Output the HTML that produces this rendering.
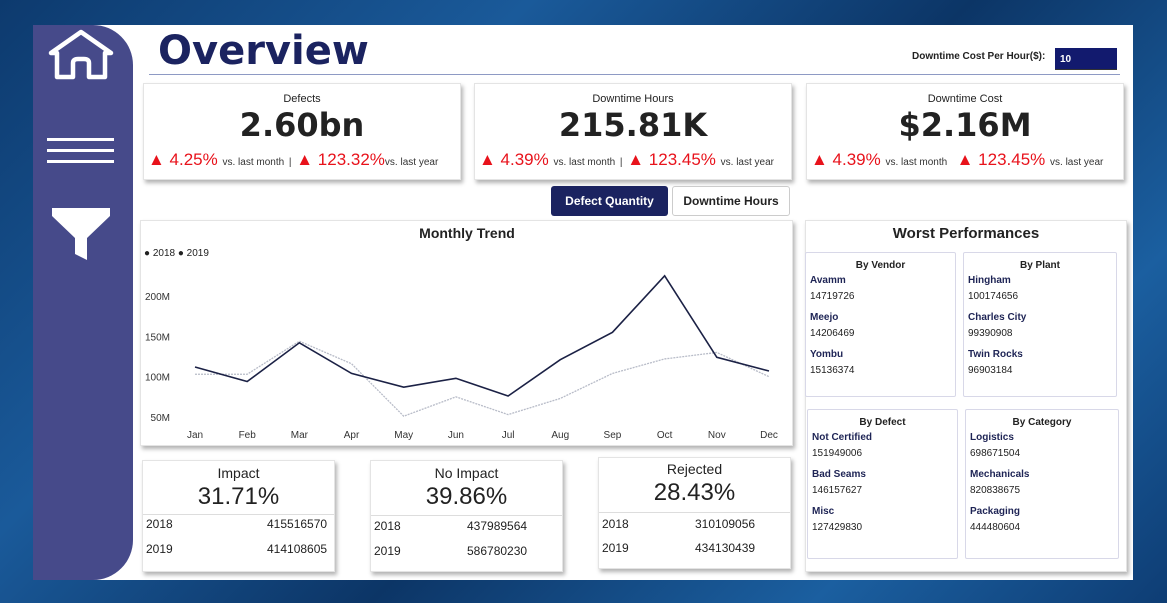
<!DOCTYPE html>
<html><head><meta charset="utf-8"><style>
*{box-sizing:border-box;margin:0;padding:0}
body{width:1167px;height:603px;overflow:hidden;font-family:"Liberation Sans","DejaVu Sans",sans-serif;background:linear-gradient(135deg,#0d3a6e,#1a5a9a 30%,#0c3566 55%,#1b5fa0 80%,#0e3d74);position:relative}
.abs{position:absolute}
.panel{left:33px;top:25px;width:1100px;height:555px;background:#fff}
.side{left:33px;top:25px;width:100px;height:555px;background:#464a8a;border-radius:0 40px 40px 0}
.card{background:#fff;box-shadow:2px 3px 4px rgba(0,0,0,.3);border:1px solid #e4e4e4}
.kt{font-size:11px;color:#222;text-align:center;width:100%}
.kv{font-size:32px;font-weight:bold;color:#222;text-align:center;width:100%;font-family:"DejaVu Sans",sans-serif;line-height:40px}
.kd{font-size:17px;color:#e8121b;white-space:nowrap}
.kd small{font-size:10px;color:#333}
.wp{border:1px solid #d8d8e8;border-radius:2px;background:#fff}
.wp h4{font-size:10px;text-align:center;color:#222;margin-top:7px}
.wp b{display:block;font-size:10px;color:#1e2455;margin:4px 0 0 4px}
.wp span{display:block;font-size:10px;color:#222;margin:5px 0 10px 4px}
.bc .t{font-size:14px;text-align:center;color:#222}
.bc .v{font-size:24px;text-align:center;color:#222}
.bc .r{font-size:12px;color:#222;position:absolute}
</style></head><body>
<div class="abs panel"></div>
<div class="abs side"></div>
<svg class="abs" style="left:46px;top:29px" width="70" height="52"><path d="M5 24 L35 3 L65 24 L59 24 L59 48 L43 48 L43 34 Q43 30 38 30 L32 30 Q27 30 27 34 L27 48 L11 48 L11 24 Z" fill="none" stroke="#fff" stroke-width="4.5" stroke-linejoin="round"/></svg>
<svg class="abs" style="left:46px;top:136px" width="70" height="30"><rect x="1" y="2" width="67" height="3" fill="#fff"/><rect x="1" y="13" width="67" height="3" fill="#fff"/><rect x="1" y="24" width="67" height="3" fill="#fff"/></svg>
<svg class="abs" style="left:50px;top:206px" width="62" height="56"><path d="M2 2 H60 V10 L37 32 V54 L25 48 V32 L2 10 Z" fill="#fff"/></svg>
<div class="abs" style="left:158px;top:28px;font-size:40px;font-weight:bold;color:#1b2360;font-family:'DejaVu Sans',sans-serif">Overview</div>
<div class="abs" style="left:149px;top:74px;width:971px;height:1px;background:#8e9ac4"></div>
<div class="abs" style="left:912px;top:51px;font-size:10px;font-weight:bold;color:#222">Downtime Cost Per Hour($):</div>
<div class="abs" style="left:1055px;top:48px;width:62px;height:22px;background:#121a6e;border-bottom:1px solid #333;color:#fff;font-size:10px;font-weight:bold;padding:6px 5px">10</div>

<div class="abs card" style="left:143px;top:83px;width:318px;height:97px">
<div class="kt" style="margin-top:9px">Defects</div><div class="kv">2.60bn</div>
<div class="kd" style="margin:5px 0 0 4px">▲ 4.25% <small>vs. last month</small> <small>|</small> ▲ 123.32%<small>vs. last year</small></div></div>
<div class="abs card" style="left:474px;top:83px;width:318px;height:97px">
<div class="kt" style="margin-top:9px">Downtime Hours</div><div class="kv">215.81K</div>
<div class="kd" style="margin:5px 0 0 4px">▲ 4.39% <small>vs. last month</small> <small>|</small> ▲ 123.45% <small>vs. last year</small></div></div>
<div class="abs card" style="left:806px;top:83px;width:318px;height:97px">
<div class="kt" style="margin-top:9px">Downtime Cost</div><div class="kv">$2.16M</div>
<div class="kd" style="margin:5px 0 0 4px">▲ 4.39% <small>vs. last month</small>&nbsp; ▲ 123.45% <small>vs. last year</small></div></div>

<div class="abs" style="left:551px;top:186px;width:117px;height:30px;background:#1b2360;color:#fff;font-size:12px;font-weight:bold;text-align:center;line-height:30px;border-radius:3px">Defect Quantity</div>
<div class="abs" style="left:672px;top:186px;width:118px;height:30px;background:#fff;border:1px solid #ccc;color:#222;font-size:12px;font-weight:bold;text-align:center;line-height:28px;border-radius:3px">Downtime Hours</div>

<div class="abs card" style="left:140px;top:220px;width:653px;height:226px"></div>
<svg class="abs" style="left:0;top:0" width="1167" height="603" id="chart"></svg>

<div class="abs card" style="left:805px;top:220px;width:322px;height:352px">
<div style="font-size:15px;font-weight:bold;text-align:center;margin-top:4px;color:#222">Worst Performances</div></div>
<div class="abs wp" style="left:805px;top:252px;width:151px;height:145px"><h4>By Vendor</h4><b>Avamm</b><span>14719726</span><b>Meejo</b><span>14206469</span><b>Yombu</b><span>15136374</span></div>
<div class="abs wp" style="left:963px;top:252px;width:154px;height:145px"><h4>By Plant</h4><b>Hingham</b><span>100174656</span><b>Charles City</b><span>99390908</span><b>Twin Rocks</b><span>96903184</span></div>
<div class="abs wp" style="left:807px;top:409px;width:151px;height:150px"><h4>By Defect</h4><b>Not Certified</b><span>151949006</span><b>Bad Seams</b><span>146157627</span><b>Misc</b><span>127429830</span></div>
<div class="abs wp" style="left:965px;top:409px;width:154px;height:150px"><h4>By Category</h4><b>Logistics</b><span>698671504</span><b>Mechanicals</b><span>820838675</span><b>Packaging</b><span>444480604</span></div>

<div class="abs card bc" style="left:142px;top:460px;width:193px;height:112px">
<div class="t" style="margin-top:4px">Impact</div><div class="v" style="margin-top:2px">31.71%</div>
<div style="position:absolute;left:0;right:0;top:53px;height:1px;background:#ddd"></div>
<div class="r" style="left:3px;top:56px">2018</div><div class="r" style="left:124px;top:56px">415516570</div>
<div class="r" style="left:3px;top:81px">2019</div><div class="r" style="left:124px;top:81px">414108605</div></div>
<div class="abs card bc" style="left:370px;top:460px;width:193px;height:112px">
<div class="t" style="margin-top:4px">No Impact</div><div class="v" style="margin-top:2px">39.86%</div>
<div style="position:absolute;left:0;right:0;top:54px;height:1px;background:#ddd"></div>
<div class="r" style="left:3px;top:58px">2018</div><div class="r" style="left:96px;top:58px">437989564</div>
<div class="r" style="left:3px;top:83px">2019</div><div class="r" style="left:96px;top:83px">586780230</div></div>
<div class="abs card bc" style="left:598px;top:457px;width:193px;height:112px">
<div class="t" style="margin-top:3px">Rejected</div><div class="v" style="margin-top:2px">28.43%</div>
<div style="position:absolute;left:0;right:0;top:54px;height:1px;background:#ddd"></div>
<div class="r" style="left:3px;top:59px">2018</div><div class="r" style="left:96px;top:59px">310109056</div>
<div class="r" style="left:3px;top:83px">2019</div><div class="r" style="left:96px;top:83px">434130439</div></div>

<script>
const months=["Jan","Feb","Mar","Apr","May","Jun","Jul","Aug","Sep","Oct","Nov","Dec"];
const s2018=[112,94,142,104,87,98,76,121,155,225,124,107];
const s2019=[103,103,144,116,51,75,53,73,104,122,130,100];
const yTicks=[50,100,150,200];
const svg=document.getElementById('chart');
const NS='http://www.w3.org/2000/svg';
const x=i=>195+i*(769-195)/11;
const y=v=>417-(v-50)*(121/150);
function mk(t,a,txt){const e=document.createElementNS(NS,t);for(const k in a)e.setAttribute(k,a[k]);if(txt!==undefined)e.textContent=txt;svg.appendChild(e);return e;}
let e=mk('text',{x:467,y:238,'font-size':14,'font-weight':'bold','text-anchor':'middle',fill:'#222'},'Monthly Trend');


e=mk('text',{x:144,y:256,'font-size':10,fill:'#222'},'● 2018  ● 2019');


yTicks.forEach(v=>{const t=mk('text',{x:170,y:y(v)+4,'font-size':10,'text-anchor':'end',fill:'#333'},v+'M');

});
months.forEach((m,i)=>{const t=mk('text',{x:x(i),y:438,'font-size':10,'text-anchor':'middle',fill:'#333'},m);

});
let p=mk('polyline',{points:s2019.map((v,i)=>x(i)+','+y(v)).join(' '),fill:'none',stroke:'#b8bcc8','stroke-width':1.3,'stroke-dasharray':'2 1'});


p=mk('polyline',{points:s2018.map((v,i)=>x(i)+','+y(v)).join(' '),fill:'none',stroke:'#1b2145','stroke-width':1.6});


</script>
</body></html>
